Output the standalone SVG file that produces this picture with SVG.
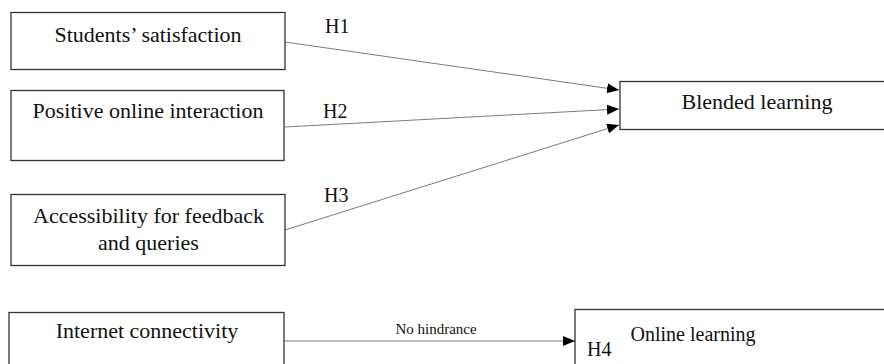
<svg xmlns="http://www.w3.org/2000/svg" width="884" height="364" viewBox="0 0 884 364">
<style>
.box{fill:#fff;stroke:#333;stroke-width:1.3}
.t{font-family:"Liberation Serif","Times New Roman",serif;font-size:22px;fill:#111;text-anchor:middle}
.h{font-family:"Liberation Serif","Times New Roman",serif;font-size:20px;fill:#111}
.s{font-family:"Liberation Serif","Times New Roman",serif;font-size:15px;fill:#111;text-anchor:middle}
.c{stroke:#7a7a7a;stroke-width:1;fill:none;marker-end:url(#ah)}
</style>
<defs>
<marker id="ah" markerUnits="userSpaceOnUse" markerWidth="13" markerHeight="11" refX="12" refY="5" orient="auto">
<path d="M0,0 L12,5 L0,10 z" fill="#000"/>
</marker>
</defs>
<rect width="884" height="364" fill="#fff"/>
<g id="connectors">
<line class="c" x1="285" y1="42" x2="619" y2="90"/>
<line class="c" x1="285" y1="127" x2="619" y2="109"/>
<line class="c" x1="285" y1="230" x2="619" y2="125"/>
<line class="c" x1="284" y1="341" x2="575" y2="341"/>
<text class="h" x="325" y="33">H1</text>
<text class="h" x="323" y="118">H2</text>
<text class="h" x="324" y="202">H3</text>
<text class="s" x="436" y="334">No hindrance</text>
</g>
<g id="n1">
<rect class="box" x="11" y="12.5" width="274" height="57"/>
<text class="t" x="148" y="42">Students’ satisfaction</text>
</g>
<g id="n2">
<rect class="box" x="11" y="90.5" width="273" height="70"/>
<text class="t" x="148" y="118">Positive online interaction</text>
</g>
<g id="n3">
<rect class="box" x="11" y="194.5" width="274" height="71"/>
<text class="t" x="148.5" y="223">Accessibility for feedback</text>
<text class="t" x="148.5" y="250">and queries</text>
</g>
<g id="n4">
<rect class="box" x="9" y="312.5" width="275" height="80"/>
<text class="t" x="147" y="338">Internet connectivity</text>
</g>
<g id="n5">
<rect class="box" x="620" y="81.5" width="300" height="48"/>
<text class="t" x="757" y="109">Blended learning</text>
</g>
<g id="n6">
<rect class="box" x="575" y="309.5" width="320" height="80"/>
<text class="t" x="693" y="341" style="font-size:20px">Online learning</text>
<text class="h" x="587" y="356">H4</text>
</g>
</svg>
